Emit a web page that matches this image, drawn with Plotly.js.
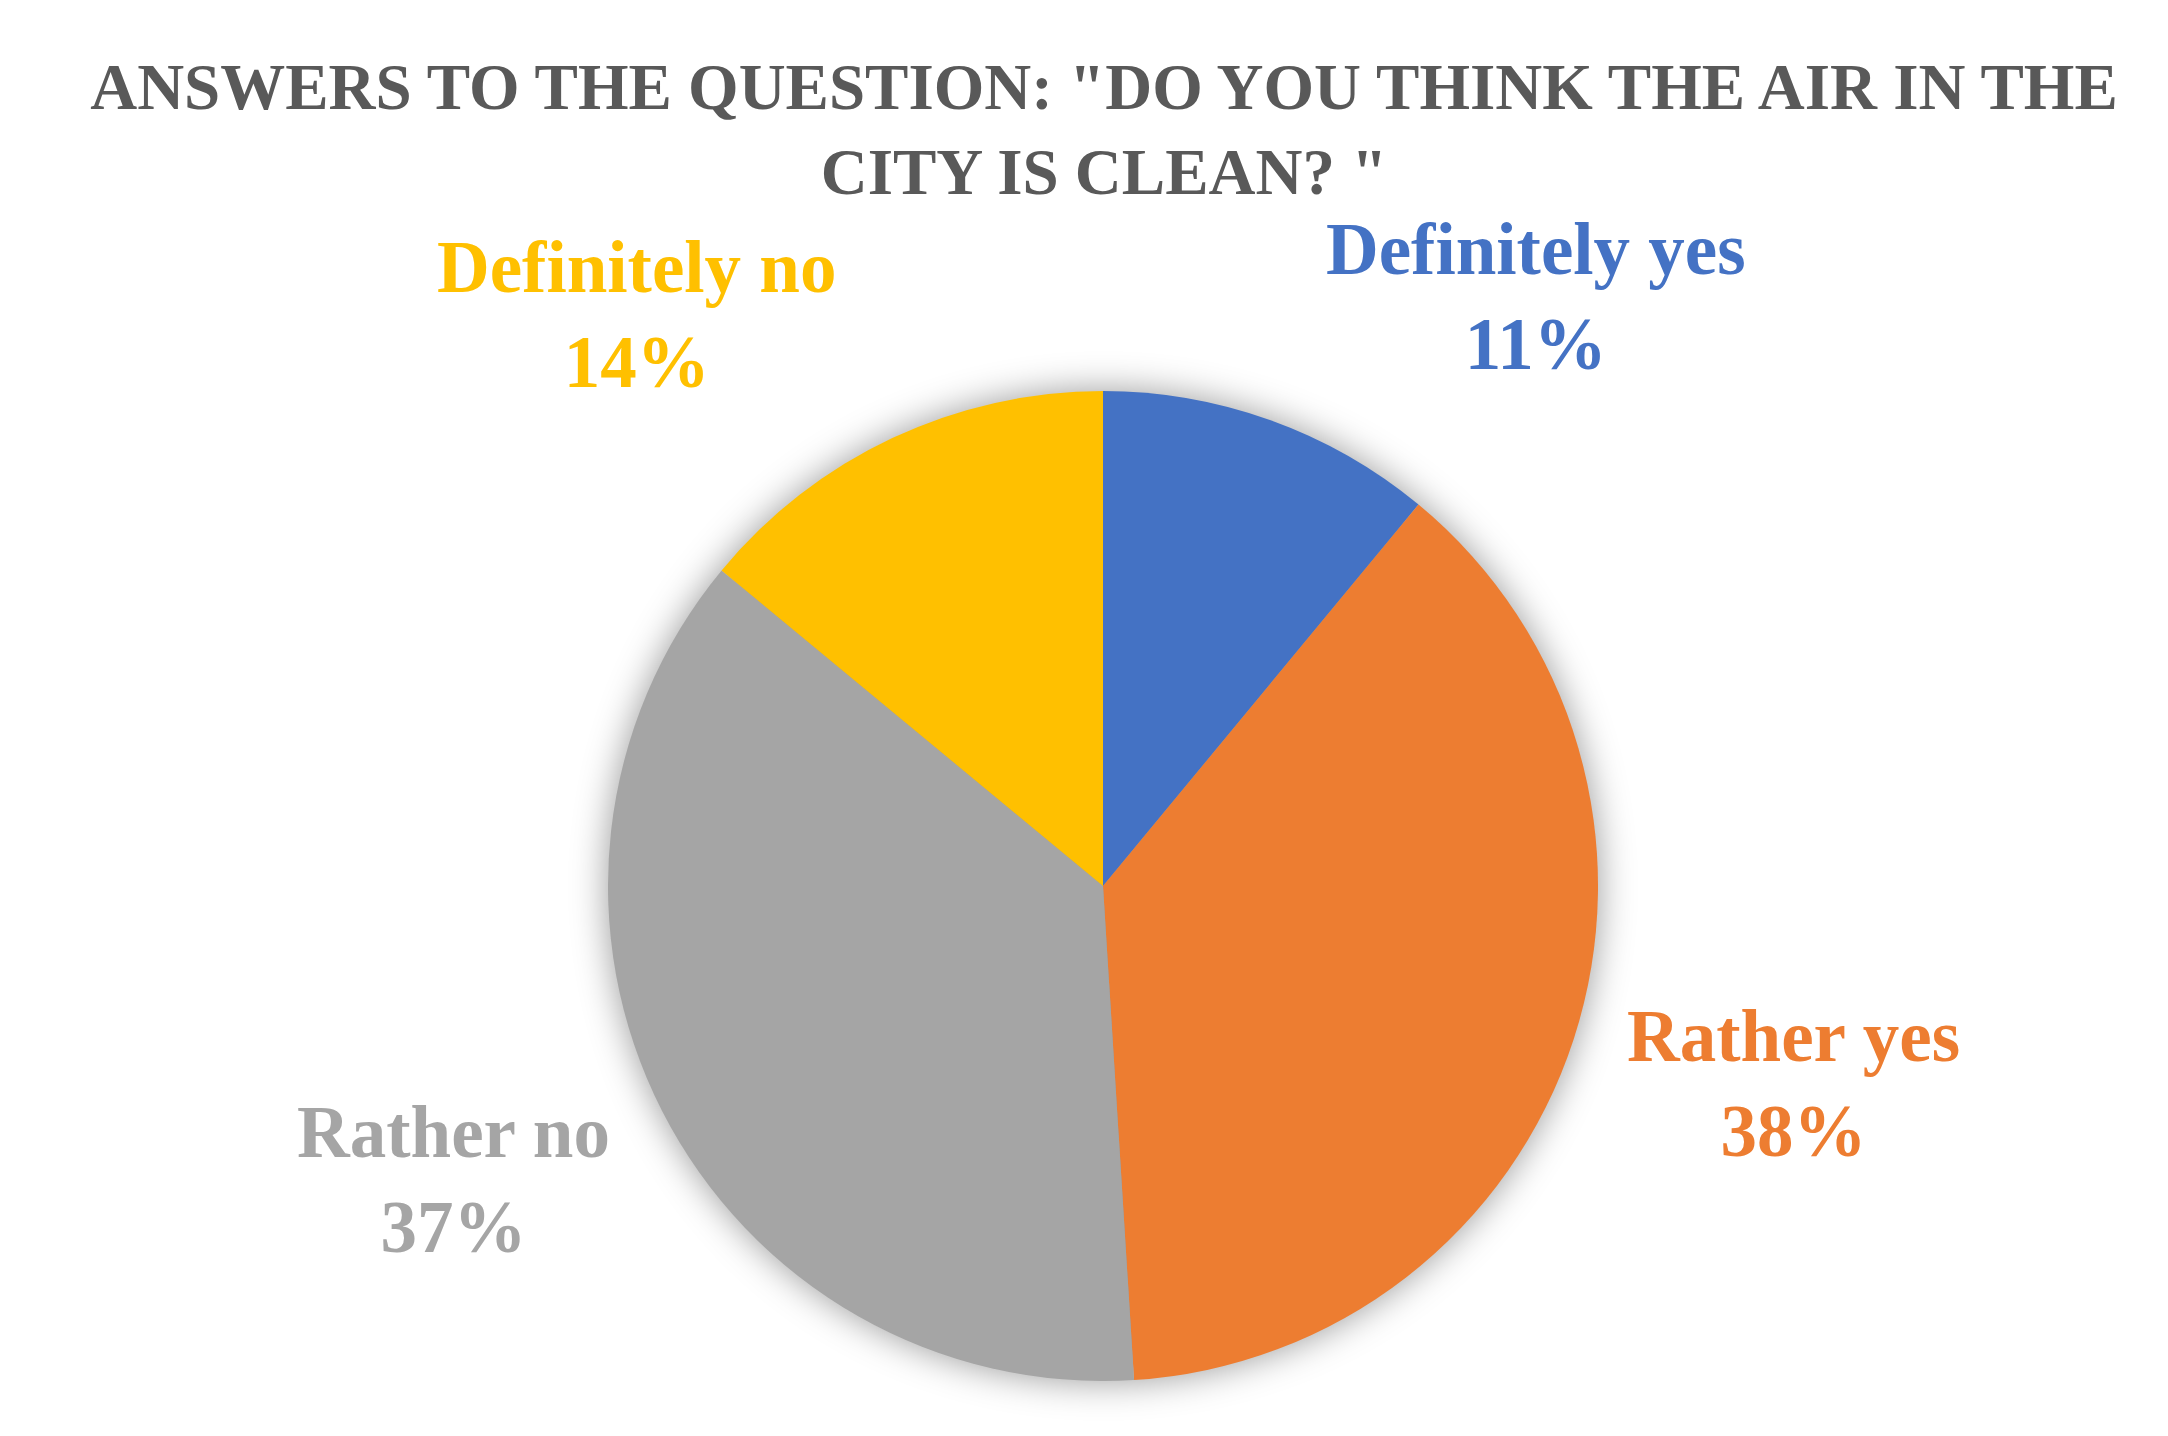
<!DOCTYPE html>
<html>
<head>
<meta charset="utf-8">
<script src="https://cdn.plot.ly/plotly-3.0.1.min.js"></script>
<style>
html,body{margin:0;padding:0;background:#fff;}
#chart{width:2168px;height:1436px;}
.pielayer{filter:drop-shadow(0px 0px 18px rgba(0,0,0,0.4));}
</style>
</head>
<body>
<div id="chart"></div>
<script>
// Data
const categories = ["Definitely yes", "Rather yes", "Rather no", "Definitely no"];
const values = [11, 38, 37, 14];
const colors = ["#4472C4", "#ED7D31", "#A5A5A5", "#FFC000"];
const titleText = 'ANSWERS TO THE QUESTION: "DO YOU THINK THE AIR IN THE<br>CITY IS CLEAN? "';

// Label placement (pixels in the 2168x1436 canvas)
const W = 2168, H = 1436;
const labelPos = [[1536, 297], [1793, 1084], [453, 1180], [636, 315]];

const total = values.reduce((a, b) => a + b, 0);
const FONT = '"Liberation Serif", "DejaVu Serif", serif';

const annotations = categories.map((c, i) => ({
  text: '<b>' + c + '<br>' + Math.round(values[i] / total * 100) + '%</b>',
  x: labelPos[i][0] / W,
  y: 1 - labelPos[i][1] / H,
  xref: 'paper', yref: 'paper',
  xanchor: 'center', yanchor: 'middle',
  showarrow: false,
  font: {family: FONT, size: 73, color: colors[i]}
}));

const cx = 1103, cy = 886, r = 495;
const trace = {
  type: 'pie',
  labels: categories,
  values: values,
  sort: false,
  direction: 'clockwise',
  rotation: 0,
  textinfo: 'none',
  hoverinfo: 'label+percent',
  marker: {colors: colors, line: {width: 0}},
  domain: {x: [(cx - r) / W, (cx + r) / W], y: [(H - cy - r) / H, (H - cy + r) / H]},
  showlegend: false
};

const layout = {
  width: W, height: H,
  margin: {l: 0, r: 0, t: 0, b: 0},
  paper_bgcolor: '#ffffff',
  title: {
    text: '<b>' + titleText + '</b>',
    x: 1104 / W, xanchor: 'center',
    y: 1 - 109 / H, yanchor: 'middle',
    font: {family: FONT, size: 65, color: '#595959'}
  },
  annotations: annotations,
  showlegend: false
};

Plotly.newPlot('chart', [trace], layout, {staticPlot: true});
</script>
</body>
</html>
